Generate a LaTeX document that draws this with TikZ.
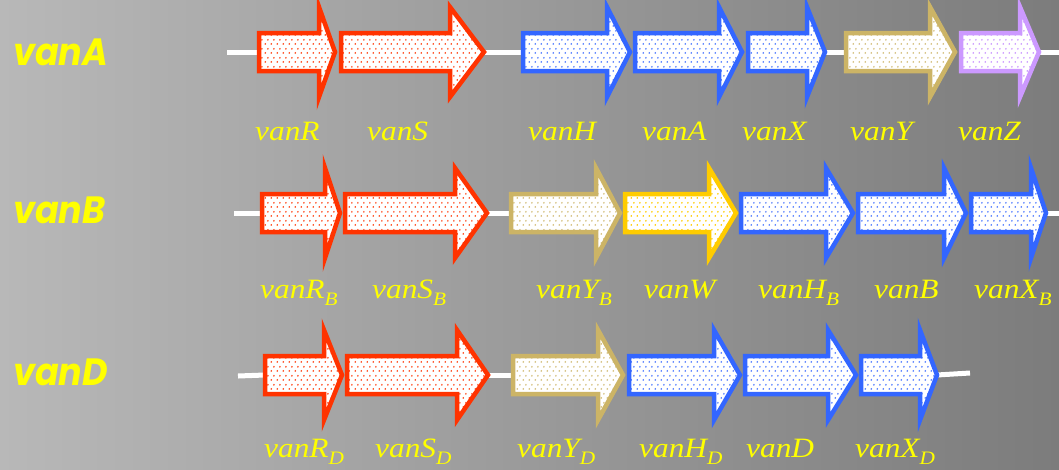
\documentclass[tikz,border=0pt]{standalone}
\usepackage{fontspec}
\usetikzlibrary{patterns.meta,backgrounds}
\newfontfamily\genefont[FakeStretch=1.12]{Liberation Serif}
\newfontfamily\titlefont[FakeStretch=0.92]{Poppins}
\definecolor{van_red}{RGB}{255, 51, 0}
\definecolor{van_blue}{RGB}{51, 102, 255}
\definecolor{van_tan}{RGB}{204, 180, 102}
\definecolor{van_lilac}{RGB}{204, 153, 255}
\definecolor{van_gold}{RGB}{255, 204, 0}
\definecolor{van_yellow}{RGB}{255, 255, 0}
\definecolor{bg_left}{RGB}{184, 184, 184}
\definecolor{bg_right}{RGB}{124, 124, 124}
\tikzdeclarepattern{
  name=gdots, type=uncolored,
  bounding box={(0pt,0pt) and (6pt,8.6pt)},
  tile size={(6pt,8.6pt)},
  code={
    \pgfpathcircle{\pgfpoint{1.5pt}{2.15pt}}{1pt}
    \pgfpathcircle{\pgfpoint{4.5pt}{6.45pt}}{1pt}
    \pgfusepath{fill}
  }
}
\tikzstyle{gene}=[line width=4.5pt,preaction={fill=white},pattern=gdots]
\tikzstyle{gred}=[gene,draw=van_red,pattern color=van_red!90]
\tikzstyle{gblue}=[gene,draw=van_blue,pattern color=van_blue!85]
\tikzstyle{gtan}=[gene,draw=van_tan,pattern color=van_tan!85]
\tikzstyle{glilac}=[gene,draw=van_lilac,pattern color=van_lilac]
\tikzstyle{ggold}=[gene,draw=van_gold,pattern color=van_gold]
\tikzstyle{link}=[white,line width=5pt]
\tikzstyle{lbl}=[text=van_yellow,inner sep=0pt,anchor=base west,
  font=\genefont\itshape\fontsize{28}{30}\selectfont]
\tikzstyle{ttl}=[text=van_yellow,inner sep=0pt,anchor=base west,
  font=\titlefont\bfseries\itshape\fontsize{38}{40}\selectfont]
% #1 name, #2 style, #3 tail x, #4 head x, #5 tip x, #6 row y
\newcommand{\gene}[6]{%
  \draw[#2] (#3,#6-19) -- (#4,#6-19) -- (#4,#6-45) -- (#5,#6)
    -- (#4,#6+45) -- (#4,#6+19) -- (#3,#6+19) -- cycle;
  \coordinate (#1-l) at (#3,#6);
  \coordinate (#1-t) at (#5,#6);}
\newcommand{\gsub}[1]{\raisebox{-7pt}{\fontsize{19}{20}\selectfont #1}}

\begin{document}
\begin{tikzpicture}[x=1pt,y=-1pt]
		\begin{pgfonlayer}{background}
		\shade [left color=bg_left, right color=bg_right] (0,0) rectangle (1059,469);
		\end{pgfonlayer}
		\useasboundingbox (0,0) rectangle (1059,469);
		% vanA
		\gene{aR}{gred}{259}{319}{335}{52}
		\gene{aS}{gred}{341}{450}{484}{52}
		\gene{aH}{gblue}{523}{607}{630}{52}
		\gene{aA}{gblue}{635}{719}{742}{52}
		\gene{aX}{gblue}{748}{807}{825}{52}
		\gene{aY}{gtan}{846}{930}{955}{52}
		\gene{aZ}{glilac}{961}{1020}{1039}{52}
		\coordinate (a0) at (227, 52);
		\coordinate (a9) at (1059, 52);
		% vanB
		\gene{bR}{gred}{262}{325}{340}{213}
		\gene{bS}{gred}{345}{455}{487}{213}
		\gene{bY}{gtan}{511}{596}{620}{213}
		\gene{bW}{ggold}{625}{709}{736}{213}
		\gene{bH}{gblue}{741}{826}{853}{213}
		\gene{bB}{gblue}{858}{944}{966}{213}
		\gene{bX}{gblue}{971}{1031}{1046}{213}
		\coordinate (b0) at (234, 213);
		\coordinate (b9) at (1059, 213);
		% vanD
		\gene{dR}{gred}{265}{324}{342}{375}
		\gene{dS}{gred}{347}{457}{488}{375}
		\gene{dY}{gtan}{513}{598}{623}{375}
		\gene{dH}{gblue}{629}{714}{740}{375}
		\gene{dD}{gblue}{745}{828}{856}{375}
		\gene{dX}{gblue}{861}{920}{937}{375}
		\coordinate (d0) at (238, 376);
		\coordinate (d9) at (970, 373);
		\begin{pgfonlayer}{background}
		\draw [style=link] (a0) to (aR-l);
		\draw [style=link] (aS-t) to (aH-l);
		\draw [style=link] (aX-t) to (aY-l);
		\draw [style=link] (aZ-t) to (a9);
		\draw [style=link] (b0) to (bR-l);
		\draw [style=link] (bS-t) to (bY-l);
		\draw [style=link] (bX-t) to (b9);
		\draw [style=link] (d0) to (dR-l);
		\draw [style=link] (dS-t) to (dY-l);
		\draw [style=link] (dX-t) to (d9);
		\end{pgfonlayer}
		% titles
		\node [style=ttl] (tA) at (13, 65) {vanA};
		\node [style=ttl] (tB) at (13, 223) {vanB};
		\node [style=ttl] (tD) at (13, 385) {vanD};
		% gene labels
		\node [style=lbl] (lR) at (255, 140) {vanR};
		\node [style=lbl] (lS) at (367, 140) {vanS};
		\node [style=lbl] (lH) at (528, 140) {vanH};
		\node [style=lbl] (lA) at (642, 140) {vanA};
		\node [style=lbl] (lX) at (742, 140) {vanX};
		\node [style=lbl] (lY) at (850, 140) {vanY};
		\node [style=lbl] (lZ) at (958, 140) {vanZ};
		\node [style=lbl] (lRB) at (260, 298) {vanR\gsub{B}};
		\node [style=lbl] (lSB) at (372, 298) {vanS\gsub{B}};
		\node [style=lbl] (lYB) at (536, 298) {vanY\gsub{B}};
		\node [style=lbl] (lW) at (644, 298) {vanW};
		\node [style=lbl] (lHB) at (758, 298) {vanH\gsub{B}};
		\node [style=lbl] (lB) at (874, 298) {vanB};
		\node [style=lbl] (lXB) at (974, 298) {vanX\gsub{B}};
		\node [style=lbl] (lRD) at (264, 457) {vanR\gsub{D}};
		\node [style=lbl] (lSD) at (375, 457) {vanS\gsub{D}};
		\node [style=lbl] (lYD) at (517, 457) {vanY\gsub{D}};
		\node [style=lbl] (lHD) at (639, 457) {vanH\gsub{D}};
		\node [style=lbl] (lD) at (746, 457) {vanD};
		\node [style=lbl] (lXD) at (855, 457) {vanX\gsub{D}};
\end{tikzpicture}
\end{document}
